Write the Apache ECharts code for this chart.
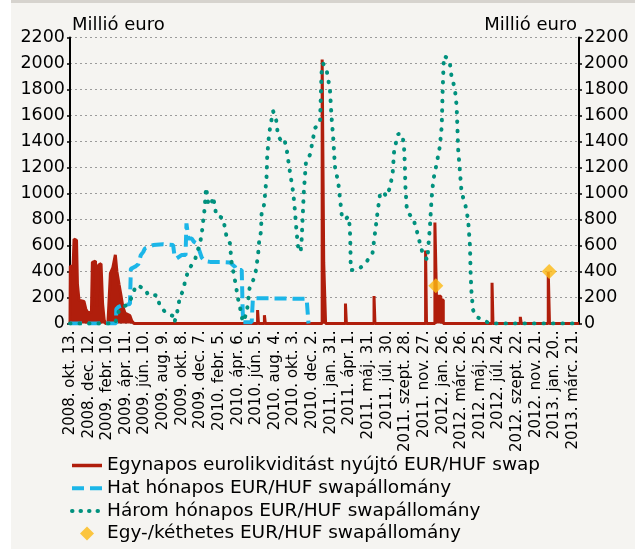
<!DOCTYPE html>
<html><head><meta charset="utf-8">
<script src="https://cdn.jsdelivr.net/npm/echarts@6/dist/echarts.min.js"></script>
<style>html,body{margin:0;padding:0;background:#fff}#c{width:635px;height:549px}</style>
</head><body><div id="c"></div>
<script>
const START = '2008-10-13';
const END = '2013-04-09';
const xTickLabels = ['2008. okt. 13.', '2008. dec. 12.', '2009. febr. 10.', '2009. ápr. 11.', '2009. jún. 10.', '2009. aug. 9.', '2009. okt. 8.', '2009. dec. 7.', '2010. febr. 5.', '2010. ápr. 6.', '2010. jún. 5.', '2010. aug. 4.', '2010. okt. 3.', '2010. dec. 2.', '2011. jan. 31.', '2011. ápr. 1.', '2011. máj. 31.', '2011. júl. 30.', '2011. szept. 28.', '2011. nov. 27.', '2012. jan. 26.', '2012. márc. 26.', '2012. máj. 25.', '2012. júl. 24.', '2012. szept. 22.', '2012. nov. 21.', '2013. jan. 20..', '2013. márc. 21.'];
const yTicks = [0, 200, 400, 600, 800, 1000, 1200, 1400, 1600, 1800, 2000, 2200];
const seriesNames = ['Egynapos eurolikviditást nyújtó EUR/HUF swap', 'Hat hónapos EUR/HUF swapállomány', 'Három hónapos EUR/HUF swapállomány', 'Egy-/kéthetes EUR/HUF swapállomány'];

// Egynapos (overnight) swap, [date, value]
const overnightSwap = [
  ['2008-10-13',0],['2008-10-14',440],['2008-10-23',440],['2008-10-26',650],['2008-11-03',640],['2008-11-06',300],
  ['2008-11-11',180],['2008-11-27',170],['2008-12-03',110],['2008-12-10',80],['2008-12-16',70],['2008-12-21',90],
  ['2008-12-24',470],['2009-01-03',480],['2009-01-08',130],['2009-01-13',450],['2009-01-21',460],['2009-01-26',150],
  ['2009-01-31',30],['2009-02-04',0],['2009-02-12',0],['2009-02-15',140],['2009-02-20',385],['2009-02-28',430],
  ['2009-03-08',528],['2009-03-13',400],['2009-03-20',300],['2009-03-26',220],['2009-04-01',130],['2009-04-08',80],
  ['2009-04-24',60],['2009-04-30',20],['2009-05-07',0],
  ['2010-06-09',0],['2010-06-09',103],['2010-06-12',103],['2010-06-12',0],
  ['2010-07-01',0],['2010-07-01',64],['2010-07-04',64],['2010-07-04',0],
  ['2011-01-03',0],['2011-01-03',2030],['2011-01-08',2030],['2011-01-08',470],['2011-01-14',470],['2011-01-14',0],
  ['2011-03-19',0],['2011-03-19',154],['2011-03-22',154],['2011-03-22',0],
  ['2011-06-19',0],['2011-06-19',211],['2011-06-22',211],['2011-06-22',0],
  ['2011-12-02',0],['2011-12-02',561],['2011-12-05',561],['2011-12-05',0],
  ['2012-01-01',0],['2012-01-01',777],['2012-01-06',777],['2012-01-06',210],['2012-01-20',210],['2012-01-20',180],['2012-01-28',180],['2012-01-28',0],
  ['2012-07-03',0],['2012-07-03',314],['2012-07-06',314],['2012-07-06',0],
  ['2012-10-02',0],['2012-10-02',51],['2012-10-05',51],['2012-10-05',0],
  ['2012-12-31',0],['2012-12-31',399],['2013-01-04',399],['2013-01-04',0],
  ['2013-04-09',0]
];
// Hat hónapos (six-month) swap stock
const sixMonthSwap = [
  ['2008-10-13',0],['2009-03-10',0],['2009-03-11',110],['2009-03-18',128],['2009-04-02',141],['2009-04-14',145],
  ['2009-04-24',150],['2009-04-27',420],['2009-05-10',436],['2009-05-21',456],['2009-05-29',526],['2009-06-06',551],
  ['2009-06-11',577],['2009-07-08',603],['2009-08-09',610],['2009-09-10',603],['2009-09-14',530],['2009-09-21',500],
  ['2009-10-07',526],['2009-10-20',526],['2009-10-23',770],['2009-10-27',770],['2009-10-29',654],['2009-11-09',654],
  ['2009-11-16',628],['2009-11-26',615],['2009-12-03',564],['2009-12-11',508],['2009-12-21',480],['2010-01-07',474],
  ['2010-02-08',474],['2010-03-12',470],['2010-03-17',460],['2010-03-28',437],['2010-04-02',411],['2010-04-19',411],
  ['2010-04-22',100],['2010-04-24',10],['2010-05-21',10],['2010-05-25',195],['2010-11-14',190],['2010-11-18',190],
  ['2010-11-20',0]
];
// Három hónapos (three-month) swap stock
const threeMonthSwap = [
  ['2008-10-13',0],['2009-03-07',0],['2009-03-14',51],['2009-03-20',103],['2009-03-31',128],['2009-04-13',141],
  ['2009-04-24',167],['2009-05-05',244],['2009-05-16',295],['2009-05-27',282],['2009-06-11',269],['2009-06-22',218],
  ['2009-07-19',218],['2009-07-30',133],['2009-08-15',90],['2009-08-31',64],['2009-09-10',59],['2009-09-14',10],
  ['2009-09-21',59],['2009-09-26',128],['2009-10-02',205],['2009-10-13',256],['2009-10-18',320],['2009-10-26',385],
  ['2009-11-05',436],['2009-11-19',487],['2009-11-27',551],['2009-12-05',615],['2009-12-11',679],['2009-12-14',756],
  ['2009-12-18',826],['2009-12-21',897],['2009-12-25',1045],['2009-12-29',987],['2010-01-01',923],['2010-01-12',910],
  ['2010-01-15',974],['2010-01-23',910],['2010-01-26',833],['2010-02-18',810],['2010-03-01',669],['2010-03-12',617],
  ['2010-03-17',476],['2010-03-22',411],['2010-03-28',334],['2010-04-08',180],['2010-04-13',129],['2010-04-19',57],
  ['2010-04-22',13],['2010-05-05',77],['2010-05-15',288],['2010-05-26',334],['2010-06-04',411],['2010-06-11',540],
  ['2010-06-14',630],['2010-06-20',707],['2010-06-22',849],['2010-06-29',900],['2010-07-03',990],['2010-07-08',1131],
  ['2010-07-10',1286],['2010-07-15',1427],['2010-07-19',1504],['2010-07-29',1633],['2010-08-07',1582],['2010-08-14',1440],
  ['2010-08-22',1414],['2010-09-02',1427],['2010-09-10',1350],['2010-09-21',1170],['2010-10-02',1003],['2010-10-07',874],
  ['2010-10-13',694],['2010-10-19',553],['2010-10-26',560],['2010-10-29',650],['2010-11-05',1016],['2010-11-12',1247],
  ['2010-11-25',1299],['2010-12-11',1504],['2010-12-27',1543],['2011-01-01',1929],['2011-01-06',2000],['2011-01-17',1955],
  ['2011-01-28',1800],['2011-02-02',1594],['2011-02-08',1414],['2011-02-13',1209],['2011-02-24',1080],['2011-03-03',926],
  ['2011-03-07',836],['2011-03-17',797],['2011-03-28',823],['2011-04-02',746],['2011-04-04',592],['2011-04-05',411],
  ['2011-04-13',411],['2011-05-04',424],['2011-05-26',476],['2011-06-14',540],['2011-06-22',694],['2011-06-30',849],
  ['2011-07-08',990],['2011-07-19',1016],['2011-07-28',977],['2011-08-09',1042],['2011-08-18',1157],['2011-08-23',1337],
  ['2011-08-31',1414],['2011-09-05',1458],['2011-09-16',1458],['2011-09-23',1389],['2011-09-26',1234],['2011-09-28',1054],
  ['2011-10-02',900],['2011-10-07',849],['2011-10-23',810],['2011-11-03',720],['2011-11-11',643],['2011-11-24',527],
  ['2011-12-08',489],['2011-12-10',566],['2011-12-16',746],['2011-12-21',952],['2011-12-27',1106],['2012-01-06',1222],
  ['2012-01-17',1363],['2012-01-23',1517],['2012-01-26',1800],['2012-01-30',2058],['2012-02-08',2045],['2012-02-18',2006],
  ['2012-02-24',1890],['2012-03-05',1813],['2012-03-11',1672],['2012-03-16',1337],['2012-03-22',1157],['2012-03-27',1003],
  ['2012-04-07',926],['2012-04-17',797],['2012-04-23',592],['2012-04-25',386],['2012-04-28',231],['2012-05-03',103],
  ['2012-05-14',51],['2012-06-05',26],['2012-06-26',0],['2013-04-09',0]
];
// Egy-/kéthetes (one/two-week) swap stock
const oneTwoWeekSwap = [['2012-01-04',290],['2013-01-03',400]];

const COLORS = ['#b01e0c', '#1cb6e8', '#00917e', '#fdb913'];
const DAY = 86400000;
const t0 = Date.parse(START + 'T00:00:00Z');
const dayIdx = d => Math.round((Date.parse(d + 'T00:00:00Z') - t0) / DAY);
const toXY = arr => arr.map(p => [dayIdx(p[0]), p[1]]);
const FONT = 'DejaVu Sans';

const chart = echarts.init(document.getElementById('c'), null, {renderer: 'canvas'});
const yCommon = {
  type: 'value', min: yTicks[0], max: yTicks[yTicks.length - 1], interval: yTicks[1] - yTicks[0],
  name: 'Millió euro', nameLocation: 'end', nameGap: 3,
  axisLine: {show: true, lineStyle: {color: '#000', width: 2}},
  axisTick: {show: true, length: 3, lineStyle: {color: '#000', width: 1.5}},
  axisLabel: {color: '#000', fontSize: 17.5, fontFamily: FONT, margin: 5, formatter: v => String(v)}
};
const lineLegendItem = (i, ls) => ({name: seriesNames[i], itemStyle: {opacity: 0}, lineStyle: ls});
chart.setOption({
  animation: false,
  backgroundColor: '#f5f4f1',
  graphic: [
    {type: 'rect', shape: {x: 0, y: 0, width: 11, height: 549}, style: {fill: '#ffffff'}, silent: true},
    {type: 'rect', shape: {x: 11, y: 0, width: 624, height: 3}, style: {fill: '#d6d3ce'}, silent: true}
  ],
  grid: {left: 70, right: 56, top: 37.5, bottom: 225.5, containLabel: false},
  xAxis: {
    type: 'value', min: 0, max: dayIdx(END), interval: 60,
    axisLine: {show: false}, axisTick: {show: false}, splitLine: {show: false},
    axisLabel: {
      rotate: 90, color: '#000', fontSize: 15, fontFamily: FONT, margin: 7,
      showMaxLabel: false,
      formatter: v => (v % 60 === 0 && xTickLabels[v / 60]) ? xTickLabels[v / 60] : ''
    }
  },
  yAxis: [
    Object.assign({}, yCommon, {
      position: 'left',
      nameTextStyle: {align: 'left', verticalAlign: 'bottom', color: '#000', fontSize: 18, fontFamily: FONT, padding: [0, 0, 0, 2]},
      splitLine: {show: true, lineStyle: {color: '#9b9b9b', width: 1, type: [2, 3]}}
    }),
    Object.assign({}, yCommon, {
      position: 'right',
      nameTextStyle: {align: 'right', verticalAlign: 'bottom', color: '#000', fontSize: 18, fontFamily: FONT, padding: [0, 2, 0, 0]},
      splitLine: {show: false}
    })
  ],
  legend: {
    orient: 'vertical', left: 70, top: 455, padding: 0, height: 94,
    itemWidth: 30, itemHeight: 14, itemGap: 1.7,
    data: [
      lineLegendItem(0, {color: COLORS[0], width: 3.5, type: 'solid'}),
      lineLegendItem(1, {color: COLORS[1], width: 4, type: [12, 6]}),
      lineLegendItem(2, {color: COLORS[2], width: 4, type: [0.5, 8], cap: 'round'}),
      {name: seriesNames[3], icon: 'path://M6,0L12,6L6,12L0,6Z', itemStyle: {color: COLORS[3]}}
    ],
    textStyle: {color: '#000', fontSize: 18.5, fontFamily: FONT, lineHeight: 21}
  },
  series: [
    {
      name: seriesNames[0], type: 'line', data: toXY(overnightSwap), symbol: 'none', z: 2,
      lineStyle: {color: COLORS[0], width: 3}, itemStyle: {color: COLORS[0]},
      areaStyle: {color: COLORS[0], opacity: 1}
    },
    {
      name: seriesNames[1], type: 'line', data: toXY(sixMonthSwap), symbol: 'none', z: 3,
      lineStyle: {color: COLORS[1], width: 4, type: [12, 6]}, itemStyle: {color: COLORS[1]}
    },
    {
      name: seriesNames[2], type: 'line', data: toXY(threeMonthSwap), symbol: 'none', z: 4,
      lineStyle: {color: COLORS[2], width: 4, type: [0.5, 9], cap: 'round'}, itemStyle: {color: COLORS[2]}
    },
    {
      name: seriesNames[3], type: 'scatter', data: toXY(oneTwoWeekSwap), symbol: 'diamond', symbolSize: 15, z: 5,
      itemStyle: {color: COLORS[3]}
    }
  ]
});
</script></body></html>
